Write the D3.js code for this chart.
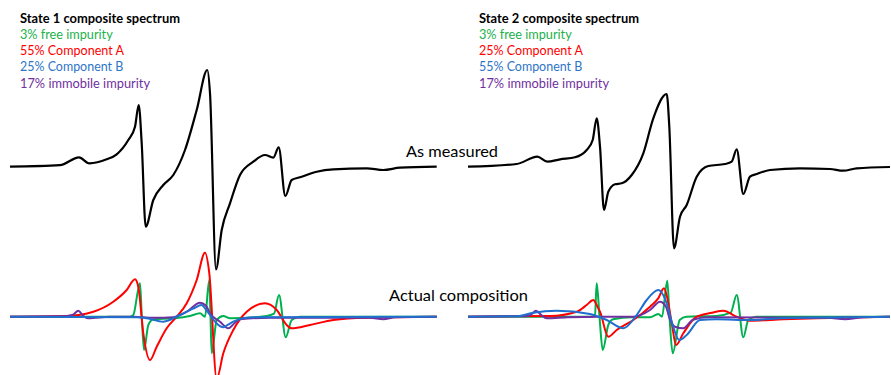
<!DOCTYPE html>
<html>
<head>
<meta charset="utf-8">
<script src="https://cdn.jsdelivr.net/npm/d3@7"></script>
<style>
  html, body { margin: 0; padding: 0; background: #fff; }
  svg { display: block; font-family: Lato, "Open Sans", sans-serif; }
</style>
</head>
<body>
<div id="chart"></div>
<script>
// field offset (arbitrary units) vs. signal amplitude
const measured1 = [[0,0],[50,1.5],[69,9.4],[79.3,3.4],[96.7,7.4],[106.7,12.4],[118.3,26.7],[125,40],[128.7,61.7],[131.7,23.4],[135.7,-60],[143.3,-33.3],[153.3,-18.3],[163.3,-8.3],[175,16.7],[186.7,56.7],[197.3,96.7],[200,73.4],[206,-102.6],[211.7,-63.3],[220,-36.6],[230,-8.3],[243.3,5],[255,11.7],[263.3,9],[268.7,19.4],[275.3,-29.3],[281.7,-13.3],[290,-10.6],[306.7,-5],[323.3,-2.6],[356.7,-1.6],[373.3,-3.3],[390,-1],[426.7,0]];
const measured2 = [[0,0],[48.7,2.7],[69.3,10],[79.3,5],[92,7.4],[107,9.4],[118.7,16.7],[124.7,26.7],[128.7,48.4],[132,20],[136,-43.3],[140.3,-25],[147,-17.6],[153.7,-16.6],[163.7,-8.3],[175.3,13.4],[185.3,48.4],[198.7,72.7],[201.3,40],[206,-81.6],[212,-50],[218.7,-38.3],[228.7,-10],[240.3,0.7],[257,2.7],[263.7,5],[268.7,17.4],[275.3,-27.3],[282,-10],[288.7,-7.3],[302,-3.3],[332,-1.6],[362,-2.3],[375.3,-4],[388.7,-1.6],[422,-0.3]];

const free1 = [[0,0],[120,0],[123.3,1.7],[130,33.4],[131.7,2],[134,-33.3],[138.3,-8.3],[143.3,-2.6],[163.3,-1.6],[180,0.7],[190,3.4],[195,0],[199.3,36.7],[200.5,0],[201.7,-36.6],[206.7,-3.3],[213.3,0.7],[220,-1.6],[256.7,0.7],[264,3],[269,21.7],[275.7,-20.6],[281.7,-3.3],[290,0],[426.7,0]];
const compA1 = [[0,0],[56.7,0.7],[83.3,5],[103.3,15],[116.7,26.7],[125,37.4],[128.3,30],[133.3,-16.6],[140,-43.3],[146.7,-30],[156.7,-11.6],[166.7,0],[176.7,13.4],[186.7,36.7],[195,64],[199.3,43.4],[206.7,-62],[213.3,-36.6],[223.3,-13.3],[236.7,5],[255,13.4],[266.7,6.7],[276.7,-8.3],[281.7,-11.6],[300,-8.3],[323.3,-3.3],[356.7,-1],[426.7,0]];
const compB1 = [[0,0],[126.7,-0.5],[136.7,-1.6],[153.3,-5],[170,1.7],[183,8],[191.7,11.7],[196,7],[200,1.7],[206,-6],[213.3,-10.6],[218,-8],[223.3,-5],[233,-1.6],[250,-0.5],[426.7,0]];
const immobile1 = [[0,0],[55,0.5],[63,2],[68.3,6],[73,1],[78.3,-1.6],[100,0],[123.3,0],[143.3,-1],[163.3,-0.5],[176.7,5],[190,14],[196,11],[200,3.4],[210,-5],[218.3,-11.6],[225,-6],[230,-2.6],[260,-1],[360,-1],[373.3,-2.6],[385,-0.5],[426.7,0]];

const free2 = [[0,0],[124,0],[127,2],[128.7,33.4],[131.5,0],[134.7,-33.3],[140.3,-8.3],[145,-2.6],[163.7,-0.5],[182,-0.6],[190.3,2.7],[194,0],[199.3,36],[201.5,0],[204.7,-36.6],[211.7,-3.3],[218.3,0],[248.3,0.7],[262.7,4],[268.7,21.7],[275.3,-20.6],[280.3,-3.3],[288,0],[422,0]];
const compA2 = [[0,0],[82,0.7],[108.7,5],[118.7,11.7],[125.3,16.7],[129.5,10],[132,5],[140.3,-20],[148.7,-13.3],[165.3,-3.3],[182,10],[190,18],[196,28.4],[199,20],[204,-8],[208,-28.3],[215.3,-16.6],[228.7,0],[244,4],[255.3,6],[268.7,0],[282,-4],[315.3,-2.6],[348.7,-1.6],[422,0]];
const compB2 = [[0,0],[50,0.5],[65.3,4],[88.7,6],[122,2.7],[138.7,-3.3],[155.3,-11.6],[168.7,1.7],[178.7,16.7],[190.3,26.7],[198.7,13.4],[204,-6],[211.3,-23.3],[218.7,-18.3],[232,-3.3],[248.3,-2.6],[282,-3.3],[315,-1.6],[422,0]];
const immobile2 = [[0,0],[58,0.5],[63,2],[68,6],[73,2],[78.7,-1.6],[100,-0.5],[132,0],[165.3,0],[182,6.7],[192,15],[198,10],[202,-3],[207,-10],[215.3,-11.6],[225,-3],[240,-0.5],[360,-1],[377,-2.6],[395,-0.5],[422,0]];

const legend1 = ["State 1 composite spectrum", "3% free impurity", "55% Component A", "25% Component B", "17% immobile impurity"];
const legend2 = ["State 2 composite spectrum", "3% free impurity", "25% Component A", "55% Component B", "17% immobile impurity"];
const legendColors = ["#000000", "#22b14c", "#ff0000", "#2e75c8", "#7030a0"];
const legendWidths = [160, 92.7, 104, 103.3, 130];

const W = 891, H = 375;
const svg = d3.select("#chart").append("svg")
  .attr("width", W).attr("height", H)
  .attr("viewBox", `0 0 ${W} ${H}`);

svg.append("rect").attr("width", W).attr("height", H).attr("fill", "#fff");

const fieldDomain = [0, 427];
const panels = [
  { x0: 10, measured: measured1, comps: [free1, compA1, immobile1, compB1], legend: legend1, lx: 20 },
  { x0: 468, measured: measured2, comps: [free2, compA2, immobile2, compB2], legend: legend2, lx: 479 },
];
const compColors = ["#00b050", "#ff0000", "#7030a0", "#1f6fcf"];

const yTop = d3.scaleLinear().domain([-110, 110]).range([166.7 + 110, 166.7 - 110]);
const yBot = d3.scaleLinear().domain([-110, 110]).range([316.7 + 110, 316.7 - 110]);

panels.forEach(p => {
  const x = d3.scaleLinear().domain(fieldDomain).range([p.x0, p.x0 + 427]);

  const lineTop = d3.line().x(d => x(d[0])).y(d => yTop(d[1])).curve(d3.curveMonotoneX);
  const lineBot = d3.line().x(d => x(d[0])).y(d => yBot(d[1])).curve(d3.curveMonotoneX);

  // component spectra
  p.comps.forEach((c, i) => {
    svg.append("path")
      .datum(c)
      .attr("fill", "none")
      .attr("stroke", compColors[i])
      .attr("stroke-width", 2)
      .attr("stroke-linejoin", "round")
      .attr("d", lineBot);
  });

  // measured spectrum
  svg.append("path")
    .datum(p.measured)
    .attr("fill", "none")
    .attr("stroke", "#000")
    .attr("stroke-width", 2.2)
    .attr("stroke-linejoin", "round")
    .attr("d", lineTop);

  // legend block
  p.legend.forEach((t, i) => {
    svg.append("text")
      .attr("x", p.lx)
      .attr("y", 22.5 + i * 16.3)
      .attr("font-size", 13)
      .attr("font-weight", i === 0 ? "bold" : "normal")
      .attr("fill", legendColors[i])
      .attr("textLength", legendWidths[i])
      .attr("lengthAdjust", "spacingAndGlyphs")
      .text(t);
  });
});

svg.append("text")
  .attr("x", 406).attr("y", 157)
  .attr("font-size", 16)
  .attr("textLength", 92).attr("lengthAdjust", "spacingAndGlyphs")
  .text("As measured");

svg.append("text")
  .attr("x", 389).attr("y", 300.5)
  .attr("font-size", 16)
  .attr("textLength", 139).attr("lengthAdjust", "spacingAndGlyphs")
  .text("Actual composition");
</script>
</body>
</html>
